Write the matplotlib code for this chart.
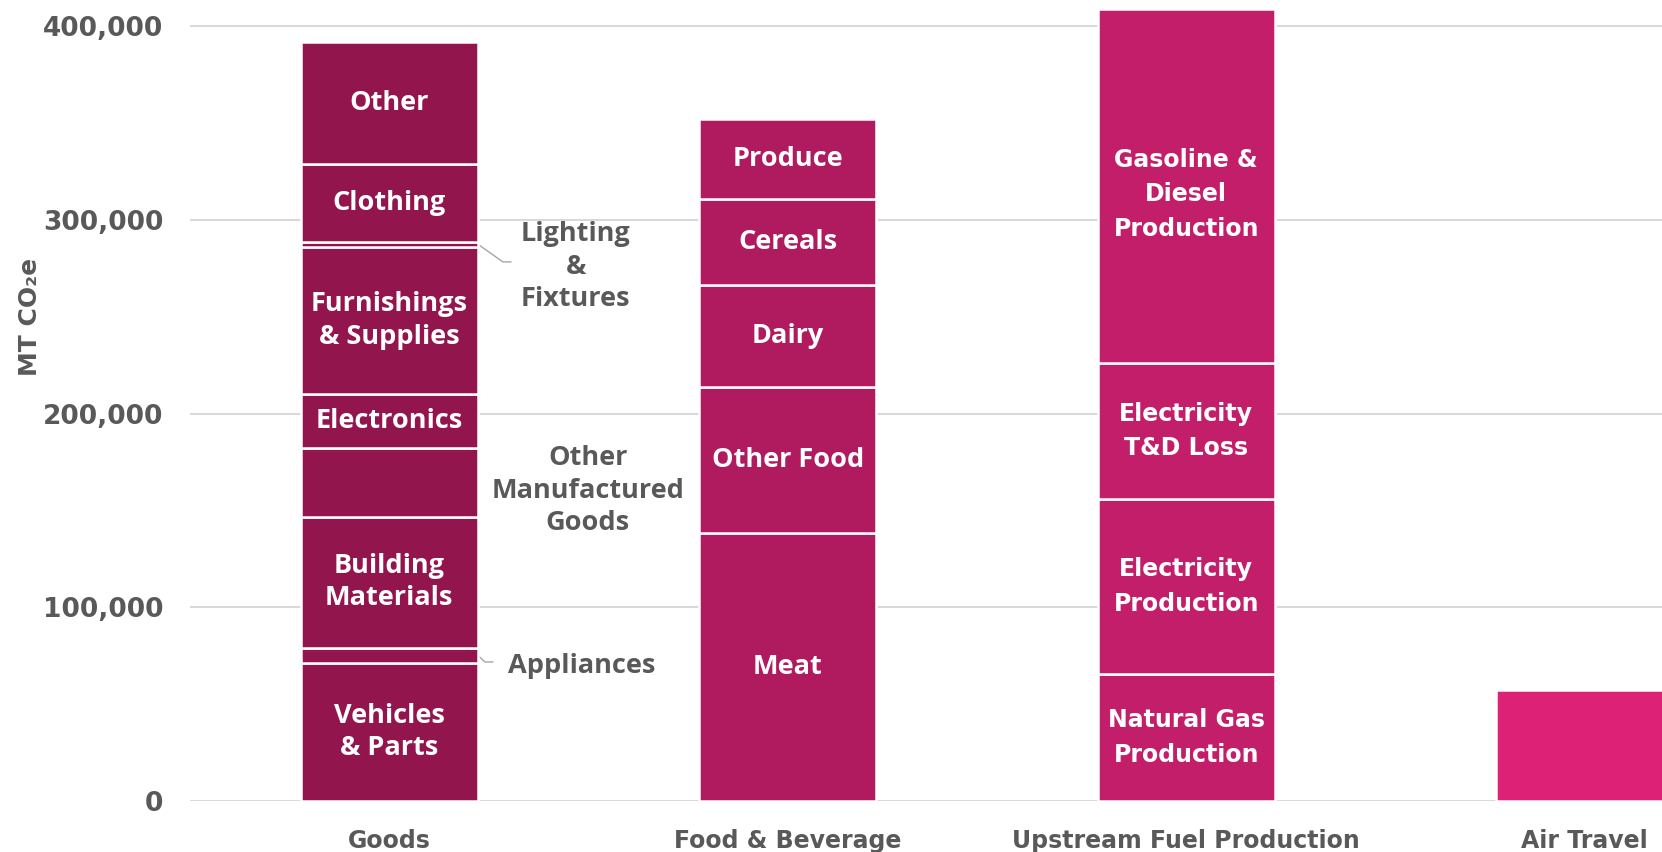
import matplotlib
matplotlib.use("Agg")
from matplotlib import pyplot as plt
import numpy as np

# categories on the x axis
categories = ["Goods", "Food & Beverage", "Upstream Fuel Production", "Air Travel"]

# stacked segments, bottom to top (MT CO2e)
goods_names = ["Vehicles\n& Parts", "Appliances", "Building\nMaterials", "Other Manufactured Goods",
               "Electronics", "Furnishings\n& Supplies", "Lighting & Fixtures", "Clothing", "Other"]
goods_vals = [71400, 7800, 67700, 35600, 27500, 76300, 2600, 40100, 62700]
goods_inside = [True, False, True, False, True, True, False, True, True]

food_names = ["Meat", "Other Food", "Dairy", "Cereals", "Produce"]
food_vals = [138300, 75700, 52400, 44600, 41400]

fuel_names = ["Natural Gas\nProduction", "Electricity\nProduction", "Electricity\nT&D Loss",
              "Gasoline &\nDiesel\nProduction"]
fuel_vals = [65600, 90100, 70500, 183000]

air_vals = [57400]

colors = ["#93154E", "#B01A5F", "#C31E6A", "#DC2177"]
grey = "#595959"
yticks = [0, 100000, 200000, 300000, 400000]

W = 0.444
FONT = "Open Sans"
FS = 19.5

fig = plt.figure(figsize=(16.62, 8.52), dpi=100)
ax = fig.add_axes([190/1662, 51/852, 1472/1662, 794/852])


def stack(x, vals, color, names=None, inside=None, font=FONT, size=FS, ls=1.33, shift=None):
    bottoms = np.concatenate([[0], np.cumsum(vals)[:-1]])
    ax.bar([x]*len(vals), vals, bottom=bottoms, width=W, color=color,
           edgecolor="white", linewidth=1.8, zorder=2)
    if names is None:
        return bottoms
    for i, (n, v, b) in enumerate(zip(names, vals, bottoms)):
        if inside is not None and not inside[i]:
            continue
        dy = shift[i] if shift else 0
        ax.text(x, b + v/2 + dy, n, ha="center", va="center", color="white",
                fontsize=size, fontweight="bold", family=font, linespacing=ls, zorder=3)
    return bottoms


gb = stack(0, goods_vals, colors[0], goods_names, goods_inside)
stack(1, food_vals, colors[1], food_names)
stack(2, fuel_vals, colors[2], fuel_names, font="DejaVu Sans", size=17, ls=1.55,
      shift=[0, 0, 0, -4500])
stack(3, air_vals, colors[3])

# outside labels for thin Goods segments
edge = W/2
lt_mid = gb[6] + goods_vals[6]/2
ax.plot([edge, 0.285, 0.305], [lt_mid, 278400, 278400], color="#A6A6A6", lw=1, zorder=1)
ax.text(0.468, 275800, "Lighting\n&\nFixtures", ha="center", va="center", color=grey,
        fontsize=FS, fontweight="bold", family=FONT, linespacing=1.33)

ap_mid = gb[1] + goods_vals[1]/2
ax.plot([edge, 0.24, 0.26], [ap_mid, 71800, 71800], color="#A6A6A6", lw=1, zorder=1)
ax.text(0.298, 69500, "Appliances", ha="left", va="center", color=grey,
        fontsize=FS, fontweight="bold", family=FONT)

ax.text(0.498, gb[3] + goods_vals[3]/2 - 4500, "Other\nManufactured\nGoods", ha="center", va="center",
        color=grey, fontsize=FS, fontweight="bold", family=FONT, linespacing=1.33)

ax.set_xlim(-0.5, 3.194)
ax.set_ylim(0, 410000)
ax.set_yticks(yticks)
ax.set_yticklabels([f"{t:,}" for t in yticks])
ax.set_xticks(range(len(categories)))
ax.set_xticklabels(categories)
ax.grid(axis="y", color="#D9D9D9", lw=1.5, zorder=0)
ax.set_axisbelow(True)
for s in ax.spines.values():
    s.set_visible(False)
ax.tick_params(axis="y", length=0, pad=19, labelsize=19, labelcolor=grey)
ax.tick_params(axis="x", length=0, pad=20, labelsize=17, labelcolor=grey)
for lab in ax.get_yticklabels() + ax.get_xticklabels():
    lab.set_fontweight("bold")
ax.set_ylabel("MT CO₂e", fontsize=18, fontweight="bold", color=grey, labelpad=0)
ax.yaxis.set_label_coords(-(190-42)/1472, (801-317)/794)

fig.savefig("out.png", dpi=100)
